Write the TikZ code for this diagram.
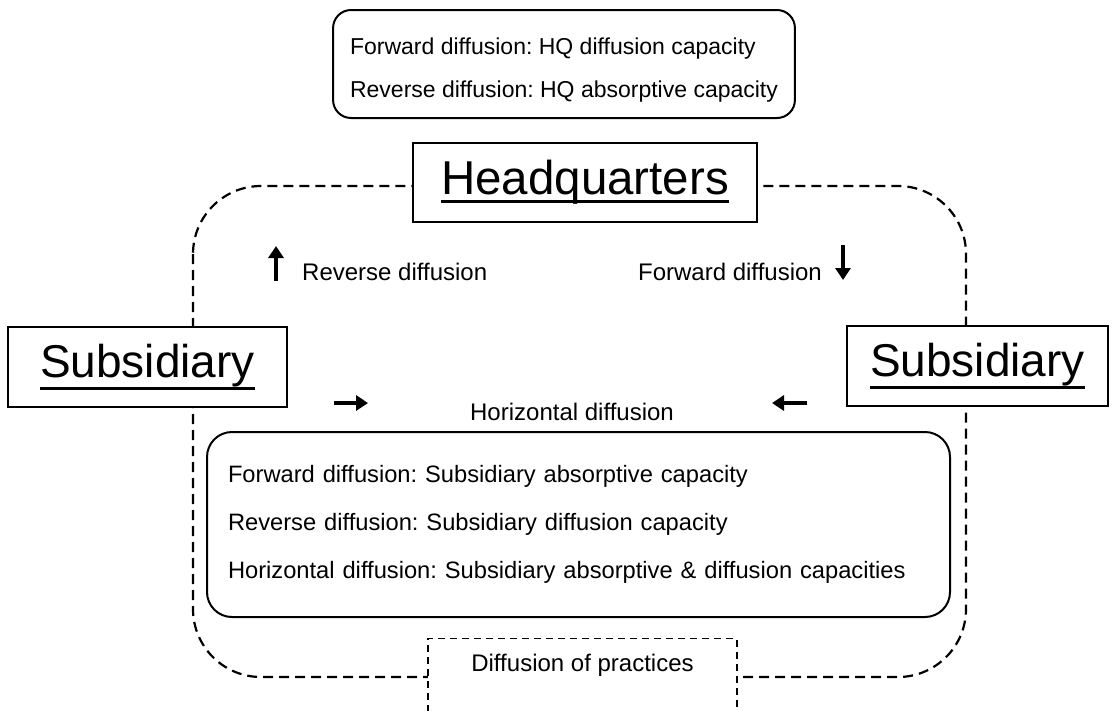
\documentclass[tikz,border=0pt]{standalone}
\usepackage{fontspec}
\setmainfont{Liberation Sans}
\usetikzlibrary{arrows.meta}
\newcommand{\ulined}[2][-8pt]{\setbox0\hbox{#2}\rlap{\rule[#1]{\wd0}{3.5pt}}\box0}
\frenchspacing
\tikzset{
    capacity/.style={
    rectangle,rounded corners=18pt,draw=black,line width=2pt,fill=white,align=left,
    font=\fontsize{24}{43}\selectfont
    },
    unit/.style={
    rectangle,draw=black,line width=1.6pt,fill=white,inner sep=0pt
    },
    loopline/.style={
    draw=black,line width=2.2pt,dash pattern=on 10pt off 6pt,rounded corners=68pt
    },
    practice/.style={
    rectangle,draw=black,line width=1.4pt,dash pattern=on 7pt off 5pt,fill=white,
    font=\fontsize{24}{28}\selectfont
    },
    caption/.style={
    inner sep=0pt,font=\fontsize{24}{28}\selectfont
    },
    flow/.style={
    line width=3.5pt,-{Triangle[width=15pt,length=12pt]}
    },
}
\begin{document}
\begin{tikzpicture}[x=1pt,y=-1pt]
  \useasboundingbox (0,0) rectangle (1118,710);
  % dashed loop behind the boxes
  \draw[loopline] (193,186) rectangle (966,677);

  \node[capacity, inner xsep=17pt, minimum height=108pt, font=\fontsize{23}{43}\selectfont] (hqcap) at (564,64)
    {\rule{0pt}{29pt}Forward diffusion: HQ diffusion capacity\\Reverse diffusion: HQ absorptive capacity};
  \node[unit, minimum width=344pt, minimum height=79pt, font=\fontsize{47.5}{50}\selectfont] (hq) at (585,182.5)
    {\ulined[-8.5pt]{Headquarters}};
  \node[unit, minimum width=279pt, minimum height=80pt, font=\fontsize{46}{50}\selectfont] (subl) at (147.5,367)
    {\ulined[-13pt]{Subsidiary}};
  \node[unit, minimum width=261pt, minimum height=80pt, font=\fontsize{46}{50}\selectfont] (subr) at (977.5,366)
    {\ulined[-13pt]{Subsidiary}};
  \node[capacity, rounded corners=25pt, text width=701pt, inner xsep=21pt, minimum height=185pt,
        font=\fontsize{23.7}{48}\selectfont] (subcap) at (578.5,524.5)
    {Forward diffusion: Subsidiary absorptive capacity\\
     Reverse diffusion: Subsidiary diffusion capacity\\
     Horizontal diffusion: Subsidiary absorptive \& diffusion capacities};
  \node[practice, anchor=north, minimum width=309pt, inner ysep=15pt, text depth=60pt] (practices) at (582.5,638)
    {Diffusion of practices};

  \node[caption, anchor=base west] (revlabel) at (302,280) {Reverse diffusion};
  \node[caption, anchor=base east] (fwdlabel) at (822,280) {Forward diffusion};
  \node[caption, anchor=base] (horlabel) at (572,420) {Horizontal diffusion};

  \coordinate (revtail) at (276,281);
  \coordinate (revhead) at (276,246);
  \coordinate (fwdtail) at (843,245);
  \coordinate (fwdhead) at (843,280);
  \coordinate (hortaill) at (334,403);
  \coordinate (horheadl) at (368,403);
  \coordinate (hortailr) at (807,403);
  \coordinate (horheadr) at (772,403);
  \draw[flow] (revtail) -- (revhead);
  \draw[flow] (fwdtail) -- (fwdhead);
  \draw[flow] (hortaill) -- (horheadl);
  \draw[flow] (hortailr) -- (horheadr);
\end{tikzpicture}
\end{document}
